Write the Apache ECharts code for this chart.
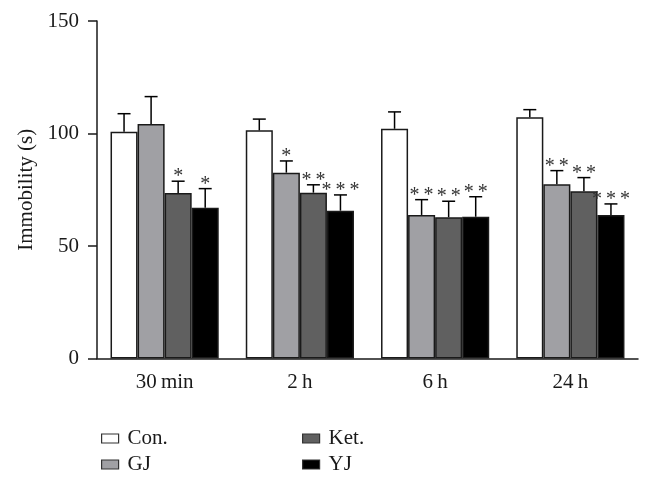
<!DOCTYPE html>
<html>
<head>
<meta charset="utf-8">
<script src="https://cdn.jsdelivr.net/npm/echarts@6/dist/echarts.min.js"></script>
<style>
html,body{margin:0;padding:0;background:#fff;}
#chart{width:652px;height:486px;}
</style>
</head>
<body>
<div id="chart"></div>
<script>
// Data
const categories = ['30\u2009min', '2\u2009h', '6\u2009h', '24\u2009h'];
const seriesNames = ['Con.', 'GJ', 'Ket.', 'YJ'];
const conMean = [100.8, 101.4, 102.1, 107.2];
const gjMean  = [104.2, 82.6, 63.8, 77.4];
const ketMean = [73.6, 73.7, 62.8, 74.3];
const yjMean  = [67.0, 65.7, 63.0, 63.8];
const conErr = [8.0, 5.0, 7.5, 3.4];
const gjErr  = [12.2, 5.2, 6.8, 6.1];
const ketErr = [5.2, 3.5, 7.1, 6.1];
const yjErr  = [8.5, 7.0, 8.9, 4.9];
const conSig = ['', '', '', ''];
const gjSig  = ['', '*', '**', '**'];
const ketSig = ['*', '**', '**', '**'];
const yjSig  = ['*', '***', '**', '***'];
const yTicks = [0, 50, 100, 150];

const means = [conMean, gjMean, ketMean, yjMean];
const errs = [conErr, gjErr, ketErr, yjErr];
const sigs = [conSig, gjSig, ketSig, yjSig];
const fills = ['#ffffff', '#a0a0a4', '#606060', '#000000'];
const FONT = 'Liberation Serif';
const TXT = '#1a1a1a';
const FS = 21;
const GAP = 0.2;

function makeRender(k) {
  return function (params, api) {
    const idx = api.value(0), mean = api.value(1), err = api.value(2);
    const stars = sigs[k][idx];
    const base = api.coord([idx, mean]);
    const bw = api.size([1, 0])[0];
    const barW = bw * (1 - GAP) / 4;
    const cx = base[0] + barW * (k - 1.5);
    const top = api.coord([idx, mean + err])[1];
    const half = barW * 0.24;
    const st = {stroke: '#000', lineWidth: 1.5};
    const children = [
      {type: 'line', shape: {x1: cx, y1: base[1], x2: cx, y2: top}, style: st},
      {type: 'line', shape: {x1: cx - half, y1: top, x2: cx + half, y2: top}, style: st}
    ];
    if (stars) {
      children.push({
        type: 'text',
        style: {
          text: stars.split('').join('\u2009'),
          x: cx, y: top + 6,
          align: 'center', verticalAlign: 'bottom',
          font: '20px "' + FONT + '"', fill: '#333'
        }
      });
    }
    return {type: 'group', children: children};
  };
}

const series = [];
seriesNames.forEach((name, k) => {
  series.push({
    name: name, type: 'bar',
    data: means[k],
    barGap: '0%', barCategoryGap: (GAP * 100) + '%',
    itemStyle: {color: fills[k], borderColor: '#1a1a1a', borderWidth: 1.5},
    emphasis: {disabled: true}
  });
});
seriesNames.forEach((name, k) => {
  series.push({
    name: name + ' err', type: 'custom',
    renderItem: makeRender(k),
    data: means[k].map((m, i) => [i, m, errs[k][i]]),
    encode: {x: 0, y: 1},
    z: 5, silent: true
  });
});

const chart = echarts.init(document.getElementById('chart'), null, {renderer: 'canvas'});
const legendCommon = {
  orient: 'vertical', icon: 'rect', itemWidth: 17, itemHeight: 9,
  itemGap: 5, top: 423, selectedMode: false,
  textStyle: {fontFamily: FONT, fontSize: FS, color: TXT, padding: [0, 0, 0, 4]},
  itemStyle: {borderColor: '#333', borderWidth: 1.2}
};
chart.setOption({
  animation: false,
  backgroundColor: '#fff',
  grid: {left: 97, right: 14, top: 21, bottom: 127.5, containLabel: false},
  legend: [
    Object.assign({}, legendCommon, {left: 96, data: ['Con.', 'GJ']}),
    Object.assign({}, legendCommon, {left: 297, data: ['Ket.', 'YJ']})
  ],
  xAxis: {
    type: 'category', data: categories,
    axisLine: {lineStyle: {color: '#1a1a1a', width: 1.5}},
    axisTick: {alignWithLabel: true, length: 10, lineStyle: {color: '#1a1a1a', width: 1.5}},
    axisLabel: {fontFamily: FONT, fontSize: FS, color: TXT, margin: 13}
  },
  yAxis: {
    type: 'value', min: 0, max: 150, interval: 50,
    name: 'Immobility (s)', nameLocation: 'middle', nameGap: 60,
    nameTextStyle: {fontFamily: FONT, fontSize: FS, color: TXT},
    axisLine: {show: true, lineStyle: {color: '#1a1a1a', width: 1.5}},
    axisTick: {show: true, length: 9, lineStyle: {color: '#1a1a1a', width: 1.5}},
    axisLabel: {fontFamily: FONT, fontSize: FS, color: TXT, margin: 18,
      formatter: v => yTicks.indexOf(v) >= 0 ? String(v) : ''},
    splitLine: {show: false}
  },
  series: series
});
</script>
</body>
</html>
